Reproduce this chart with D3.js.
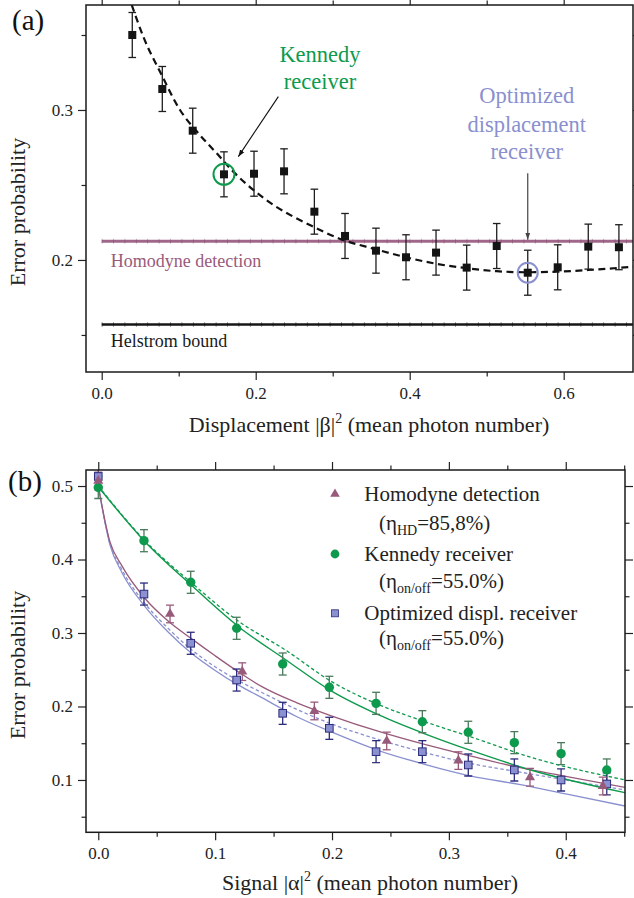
<!DOCTYPE html>
<html><head><meta charset="utf-8">
<script src="https://cdn.jsdelivr.net/npm/d3@7"></script>
<style>
html,body{margin:0;padding:0;background:#fff;}
svg{display:block;}
</style></head><body>
<svg id="c" width="634" height="898"></svg>
<script>
// ================= DATA =================
// Panel (a): error probability vs displacement |beta|^2
const dispX   = [0.0397,0.0787,0.1182,0.1588,0.1978,0.2368,0.2762,0.3160,0.3562,0.3952,0.4342,0.4740,0.5130,0.5533,0.5922,0.6319,0.6717];
const dispY   = [0.350,0.314,0.2862,0.2571,0.2575,0.2591,0.2322,0.2160,0.2062,0.2018,0.2049,0.1949,0.2093,0.1915,0.1951,0.2089,0.2085];
const dispErr = [0.015,0.015,0.015,0.015,0.015,0.015,0.015,0.015,0.015,0.015,0.015,0.015,0.015,0.015,0.015,0.015,0.015];
const fitAX   = [0.039,0.054,0.0779,0.1017,0.1255,0.1494,0.1709,0.1969,0.2229,0.2488,0.2748,0.3073,0.356,0.395,0.434,0.474,0.513,0.553,0.592,0.632,0.690];
const fitAY   = [0.370,0.3489,0.3233,0.300,0.2845,0.2711,0.2589,0.2467,0.2367,0.2289,0.2222,0.2145,0.2071,0.2018,0.1975,0.1945,0.1925,0.1918,0.1922,0.1933,0.1955];
const homodyneLevel = 0.2125;
const helstromLevel = 0.1570;
const kennedyIndex = 3;
const optimizedIndex = 13;
const aXMajor = [0,0.2,0.4,0.6], aXMinor = [0.1,0.3,0.5];
const aYMajor = [0.2,0.3],       aYMinor = [0.15,0.25,0.35];

// Panel (b): error probability vs signal |alpha|^2
const homX   = [0,0.0614,0.1232,0.1849,0.2468,0.3081,0.3694,0.4317];
const homY   = [0.507,0.3259,0.2474,0.1939,0.1531,0.1263,0.1037,0.0918];
const homErr = [0.012,0.012,0.012,0.012,0.012,0.012,0.012,0.012];
const kenX   = [0,0.0391,0.0791,0.1184,0.1578,0.1977,0.2377,0.2773,0.3166,0.3560,0.3960,0.4351];
const kenY   = [0.498,0.4256,0.369,0.3064,0.2578,0.2261,0.2043,0.1793,0.1649,0.1508,0.1358,0.1136];
const kenErr = [0.015,0.015,0.015,0.015,0.015,0.015,0.015,0.015,0.015,0.015,0.015,0.015];
const optX   = [0,0.0391,0.0791,0.1184,0.1578,0.1977,0.2377,0.2773,0.3166,0.3560,0.3960,0.4351];
const optY   = [0.513,0.353,0.286,0.236,0.1907,0.1703,0.1385,0.1385,0.1204,0.1136,0.100,0.0946];
const optErr = [0.015,0.015,0.015,0.015,0.015,0.015,0.015,0.015,0.015,0.015,0.015,0.015];

const theoryX      = [0,0.01,0.02,0.04,0.06,0.08,0.10,0.12,0.14,0.17,0.20,0.24,0.28,0.32,0.36,0.40,0.4507];
const homTheoryY   = [0.5,0.424,0.392,0.347,0.316,0.292,0.269,0.247,0.227,0.205,0.187,0.166,0.148,0.132,0.117,0.105,0.090];
const optTheoryY   = [0.5,0.420,0.383,0.336,0.301,0.272,0.249,0.229,0.212,0.186,0.165,0.140,0.121,0.105,0.094,0.081,0.0646];
const optRealY     = [0.5,0.422,0.387,0.340,0.306,0.277,0.254,0.235,0.219,0.196,0.176,0.155,0.137,0.122,0.111,0.100,0.0864];
const kenTheoryX   = [0,0.04,0.08,0.12,0.16,0.20,0.24,0.28,0.32,0.37,0.4507];
const kenTheoryY   = [0.499,0.4242,0.3645,0.3086,0.2640,0.2205,0.1885,0.1625,0.1395,0.1136,0.0827];
const kenRealY     = [0.5,0.4255,0.368,0.316,0.277,0.2335,0.2025,0.179,0.158,0.131,0.100];
const bXMajor = [0,0.1,0.2,0.3,0.4], bXMinor = [0.05,0.15,0.25,0.35,0.45];
const bYMajor = [0.1,0.2,0.3,0.4,0.5], bYMinor = [0.05,0.15,0.25,0.35,0.45];

// ================= DRAWING =================
const FONT = '"Liberation Serif"';
const GREEN = "#0e9a4c", LAV = "#8a90cf", MAUVE = "#985a7b", NAVY = "#2c2c7c";
const svg = d3.select("#c");

const defs = svg.append("defs");
function arrowMarker(id, color) {
  defs.append("marker").attr("id", id).attr("viewBox","0 0 10 10").attr("refX",10).attr("refY",5)
    .attr("markerWidth",7).attr("markerHeight",7).attr("markerUnits","userSpaceOnUse").attr("orient","auto")
    .append("path").attr("d","M0,1.5 L10,5 L0,8.5 Z").attr("fill",color);
}
arrowMarker("arrBlack","#111");
arrowMarker("arrGray","#444");

function txt(sel) { return sel.append("text").style("font-family", FONT); }

function axes(g, x, y, xMaj, xMin, yMaj, yMin) {
  const [x0,x1] = x.range(), [y0,y1] = y.range();
  const fmt = d3.format(".1f");
  const st = sel => {
    sel.select(".domain").remove();
    sel.selectAll("line").attr("stroke","#222").attr("stroke-width",1.2);
    sel.selectAll("text").style("font-family",FONT).attr("font-size",17).attr("fill","#222");
  };
  g.append("g").attr("transform",`translate(0,${y0})`).call(d3.axisBottom(x).tickValues(xMaj).tickSize(8).tickPadding(7).tickFormat(fmt)).call(st);
  g.append("g").attr("transform",`translate(0,${y0})`).call(d3.axisBottom(x).tickValues(xMin).tickSize(4.5).tickFormat("")).call(st);
  g.append("g").attr("transform",`translate(0,${y1})`).call(d3.axisTop(x).tickValues(xMaj).tickSize(8).tickFormat("")).call(st);
  g.append("g").attr("transform",`translate(0,${y1})`).call(d3.axisTop(x).tickValues(xMin).tickSize(4.5).tickFormat("")).call(st);
  g.append("g").attr("transform",`translate(${x0},0)`).call(d3.axisLeft(y).tickValues(yMaj).tickSize(8).tickPadding(5).tickFormat(fmt)).call(st);
  g.append("g").attr("transform",`translate(${x0},0)`).call(d3.axisLeft(y).tickValues(yMin).tickSize(4.5).tickFormat("")).call(st);
  g.append("g").attr("transform",`translate(${x1},0)`).call(d3.axisRight(y).tickValues(yMaj).tickSize(8).tickFormat("")).call(st);
  g.append("g").attr("transform",`translate(${x1},0)`).call(d3.axisRight(y).tickValues(yMin).tickSize(4.5).tickFormat("")).call(st);
  g.append("rect").attr("x",x0).attr("y",y1).attr("width",x1-x0).attr("height",y0-y1)
    .attr("fill","none").attr("stroke","#1a1a1a").attr("stroke-width",1.5);
}
function clip(id, x, y) {
  const [x0,x1] = x.range(), [y0,y1] = y.range();
  defs.append("clipPath").attr("id",id).append("rect").attr("x",x0).attr("y",y1).attr("width",x1-x0).attr("height",y0-y1);
}
function errBars(g, xs, ys, es, x, y, color, cap) {
  xs.forEach((xv,i) => {
    const px = x(xv), t = y(ys[i]+es[i]), b = y(ys[i]-es[i]);
    g.append("line").attr("x1",px).attr("x2",px).attr("y1",t).attr("y2",b).attr("stroke",color).attr("stroke-width",1.3);
    g.append("line").attr("x1",px-cap).attr("x2",px+cap).attr("y1",t).attr("y2",t).attr("stroke",color).attr("stroke-width",1.3);
    g.append("line").attr("x1",px-cap).attr("x2",px+cap).attr("y1",b).attr("y2",b).attr("stroke",color).attr("stroke-width",1.3);
  });
}
function titleX(g, cx, y, pre, sym) {
  const t = txt(g).attr("x",cx).attr("y",y).attr("text-anchor","middle").attr("font-size",22).attr("fill","#222");
  t.append("tspan").text(pre + "|" + sym + "|");
  t.append("tspan").attr("dy",-9).attr("font-size",14).text("2");
  t.append("tspan").attr("dy",9).text(" (mean photon number)");
}
function titleY(g, x, cy) {
  txt(g).attr("transform",`translate(${x},${cy}) rotate(-90)`).attr("text-anchor","middle")
    .attr("font-size",22).attr("fill","#222").text("Error probability");
}

// ---------- Panel (a) ----------
const xa = d3.scaleLinear().domain([-0.0204,0.69]).range([86,633]);
const ya = d3.scaleLinear().domain([0.1253,0.37]).range([372,5]);
clip("clipA", xa, ya);
const ga = svg.append("g");
const pa = ga.append("g").attr("clip-path","url(#clipA)");

[[homodyneLevel,"#a0678a",3,"#7a3f5f"],[helstromLevel,"#161616",2.4,"#000"]].forEach(([lv,c,w,tc]) => {
  pa.append("line").attr("x1",xa(0)).attr("x2",xa.range()[1]).attr("y1",ya(lv)).attr("y2",ya(lv)).attr("stroke",c).attr("stroke-width",w);
  pa.append("line").attr("x1",xa(0)).attr("x2",xa.range()[1]).attr("y1",ya(lv)).attr("y2",ya(lv))
    .attr("stroke",tc).attr("stroke-width",5).attr("stroke-dasharray","0.8,10.6").attr("opacity",0.45);
});
const lineA = d3.line().x((d,i)=>xa(fitAX[i])).y(d=>ya(d)).curve(d3.curveMonotoneX);
pa.append("path").attr("d",lineA(fitAY)).attr("fill","none").attr("stroke","#111").attr("stroke-width",2.2).attr("stroke-dasharray","7,4.5");
errBars(pa, dispX, dispY, dispErr, xa, ya, "#1e1e1e", 3.8);
pa.selectAll("rect.sq").data(dispX).enter().append("rect").attr("class","sq")
  .attr("x",(d)=>xa(d)-4).attr("y",(d,i)=>ya(dispY[i])-4).attr("width",8).attr("height",8).attr("fill","#141414");
pa.append("circle").attr("cx",xa(dispX[kennedyIndex])).attr("cy",ya(dispY[kennedyIndex])).attr("r",10.5)
  .attr("fill","none").attr("stroke",GREEN).attr("stroke-width",2);
pa.append("circle").attr("cx",xa(dispX[optimizedIndex])).attr("cy",ya(dispY[optimizedIndex])).attr("r",10)
  .attr("fill","none").attr("stroke",LAV).attr("stroke-width",2);
axes(ga, xa, ya, aXMajor, aXMinor, aYMajor, aYMinor);

txt(ga).attr("x",110.7).attr("y",266.7).attr("font-size",18).attr("fill",MAUVE).text("Homodyne detection");
txt(ga).attr("x",110.7).attr("y",346.7).attr("font-size",18).attr("fill","#1a1a1a").text("Helstrom bound");
const kt = txt(ga).attr("font-size",22.5).attr("fill",GREEN).attr("text-anchor","middle");
kt.append("tspan").attr("x",xa(0.2835)).attr("y",61.7).text("Kennedy");
kt.append("tspan").attr("x",xa(0.2835)).attr("y",89.3).text("receiver");
const ot = txt(ga).attr("font-size",22.5).attr("fill",LAV).attr("text-anchor","middle");
ot.append("tspan").attr("x",xa(0.552)).attr("y",103.3).text("Optimized");
ot.append("tspan").attr("x",xa(0.552)).attr("y",131.7).text("displacement");
ot.append("tspan").attr("x",xa(0.552)).attr("y",159.3).text("receiver");
ga.append("line").attr("x1",xa(0.2294)).attr("y1",ya(0.3089)).attr("x2",xa(0.1774)).attr("y2",ya(0.2689))
  .attr("stroke","#111").attr("stroke-width",1.1).attr("marker-end","url(#arrBlack)");
ga.append("line").attr("x1",xa(dispX[optimizedIndex])).attr("y1",ya(0.2578)).attr("x2",xa(dispX[optimizedIndex])).attr("y2",ya(0.2135))
  .attr("stroke","#444").attr("stroke-width",1.2).attr("marker-end","url(#arrGray)");
txt(ga).attr("x",12).attr("y",30).attr("font-size",29).attr("fill","#111").text("(a)");
titleX(ga, 369, 431.7, "Displacement ", "β");
titleY(ga, 25, 212);

// ---------- Panel (b) ----------
const xb = d3.scaleLinear().domain([-0.0105,0.4507]).range([86,625]);
const yb = d3.scaleLinear().domain([0.0288,0.5218]).range([832.3,470]);
clip("clipB", xb, yb);
const gb = svg.append("g");
const pb = gb.append("g").attr("clip-path","url(#clipB)");
const lineB = xs => d3.line().x((d,i)=>xb(xs[i])).y(d=>yb(d)).curve(d3.curveMonotoneX);
pb.append("path").attr("d",lineB(theoryX)(optTheoryY)).attr("fill","none").attr("stroke",LAV).attr("stroke-width",1.3);
pb.append("path").attr("d",lineB(theoryX)(optRealY)).attr("fill","none").attr("stroke",LAV).attr("stroke-width",1.3).attr("stroke-dasharray","3.5,2.5");
pb.append("path").attr("d",lineB(theoryX)(homTheoryY)).attr("fill","none").attr("stroke",MAUVE).attr("stroke-width",1.3);
pb.append("path").attr("d",lineB(kenTheoryX)(kenTheoryY)).attr("fill","none").attr("stroke",GREEN).attr("stroke-width",1.4);
pb.append("path").attr("d",lineB(kenTheoryX)(kenRealY)).attr("fill","none").attr("stroke",GREEN).attr("stroke-width",1.3).attr("stroke-dasharray","3.5,2.5");

errBars(pb, kenX, kenY, kenErr, xb, yb, "#4a7a5c", 4);
errBars(pb, optX, optY, optErr, xb, yb, NAVY, 4);
errBars(pb, homX, homY, homErr, xb, yb, MAUVE, 4);
pb.selectAll("circle.k").data(kenX).enter().append("circle").attr("class","k")
  .attr("cx",d=>xb(d)).attr("cy",(d,i)=>yb(kenY[i])).attr("r",4.7).attr("fill",GREEN);
pb.selectAll("rect.o").data(optX).enter().append("rect").attr("class","o")
  .attr("x",d=>xb(d)-3.8).attr("y",(d,i)=>yb(optY[i])-3.8).attr("width",7.6).attr("height",7.6)
  .attr("fill","#8b90d0").attr("stroke",NAVY).attr("stroke-width",1);
const tri = d3.symbol().type(d3.symbolTriangle).size(44);
pb.selectAll("path.h").data(homX).enter().append("path").attr("class","h")
  .attr("transform",(d,i)=>`translate(${xb(d)},${yb(homY[i])})`).attr("d",tri()).attr("fill",MAUVE);
axes(gb, xb, yb, bXMajor, bXMinor, bYMajor, bYMinor);

const leg = gb.append("g");
leg.append("path").attr("transform","translate(335,494)").attr("d",d3.symbol().type(d3.symbolTriangle).size(40)()).attr("fill",MAUVE);
leg.append("circle").attr("cx",335).attr("cy",554).attr("r",4.4).attr("fill",GREEN);
leg.append("rect").attr("x",331.5).attr("y",609.8).attr("width",7).attr("height",7).attr("fill","#8b90d0").attr("stroke",NAVY).attr("stroke-width",0.8);
function legLine(x, y, s) {
  txt(leg).attr("x",x).attr("y",y).attr("font-size",21).attr("fill","#222").text(s);
}
function legEta(x, y, sub, val) {
  const t = txt(leg).attr("x",x).attr("y",y).attr("font-size",21).attr("fill","#222");
  t.append("tspan").text("(η");
  t.append("tspan").attr("dy",5).attr("font-size",14).text(sub);
  t.append("tspan").attr("dy",-5).text("=" + val + ")");
}
legLine(364.3, 500.7, "Homodyne detection");
legEta(379, 530, "HD", "85,8%");
legLine(364.3, 560.7, "Kennedy receiver");
legEta(379, 588.3, "on/off", "55.0%");
legLine(364.3, 620, "Optimized displ. receiver");
legEta(379, 645, "on/off", "55.0%");

txt(gb).attr("x",8).attr("y",491).attr("font-size",29).attr("fill","#111").text("(b)");
titleX(gb, 370, 890, "Signal ", "α");
titleY(gb, 25, 665);
</script>
</body></html>
